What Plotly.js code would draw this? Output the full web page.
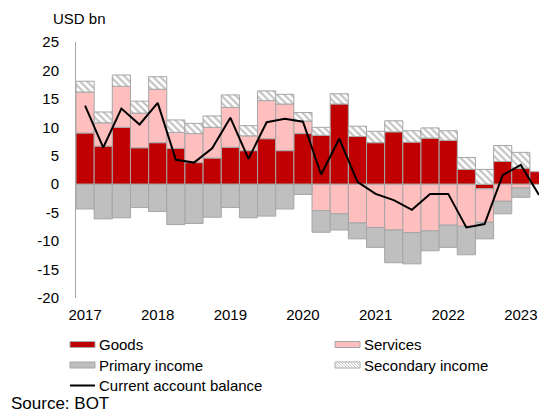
<!DOCTYPE html>
<html>
<head>
<meta charset="utf-8">
<script src="https://cdn.plot.ly/plotly-3.0.1.min.js"></script>
<style>
html,body{margin:0;padding:0;background:#fff;}
#chart{width:539px;height:414px;}
</style>
</head>
<body>
<div id="chart"></div>
<script>
var quarters = ["2017Q1","2017Q2","2017Q3","2017Q4","2018Q1","2018Q2","2018Q3","2018Q4",
  "2019Q1","2019Q2","2019Q3","2019Q4","2020Q1","2020Q2","2020Q3","2020Q4",
  "2021Q1","2021Q2","2021Q3","2021Q4","2022Q1","2022Q2","2022Q3","2022Q4",
  "2023Q1","2023Q2"];
var yearTicks = ["2017Q1","2018Q1","2019Q1","2020Q1","2021Q1","2022Q1","2023Q1"];
var yearLabels = ["2017","2018","2019","2020","2021","2022","2023"];
var yTickValues = [-20, -15, -10, -5, 0, 5, 10, 15, 20, 25];
var yTickLabels = ["-20", "-15", "-10", "-5", "0", "5", "10", "15", "20", "25"];

var goods = [9.0, 6.7, 10.0, 6.4, 7.3, 6.3, 3.8, 4.6, 6.5, 5.9, 8.0, 5.9, 8.9, 8.6, 14.1, 8.4,
  7.3, 9.2, 7.4, 8.1, 7.7, 2.6, -0.8, 4.0, 2.8, 2.2];
var services = [7.2, 4.1, 7.2, 6.1, 9.4, 2.8, 5.1, 5.4, 7.0, 2.6, 6.7, 8.2, 2.2, -4.65, -5.2, -6.8,
  -7.6, -8.05, -8.5, -8.2, -7.2, -7.4, -5.9, -3.0, -0.65, null];
var primaryIncome = [-4.35, -6.1, -5.9, -4.1, -4.8, -7.1, -6.9, -5.8, -4.1, -5.9, -5.6, -4.35, -1.8, -3.8, -2.85, -2.8,
  -3.5, -5.75, -5.5, -3.5, -3.9, -5.0, -2.9, -2.2, -1.65, null];
var secondaryIncome = [1.9, 1.9, 2.0, 2.1, 2.2, 2.2, 1.8, 2.0, 2.2, 1.8, 1.7, 1.7, 1.5, 1.4, 1.8, 1.8,
  2.0, 1.95, 2.0, 1.8, 1.7, 2.1, 2.6, 2.8, 2.8, null];
var currentAccount = [13.8, 6.45, 13.3, 10.5, 14.3, 4.3, 3.8, 6.3, 11.7, 4.45, 10.9, 11.5, 11.0, 1.7, 8.0, 0.4,
  -1.7, -2.8, -4.5, -1.7, -1.7, -7.6, -7.0, 1.6, 3.4, -1.9];

var seriesNames = ["Goods", "Services", "Primary income", "Secondary income", "Current account balance"];

var FONT = "Liberation Sans, Arial, sans-serif";
var OUTLINE = "#a6a6a6";
var HATCH = "#c4c4c4";
var COLORS = ["#c00000", "#ffbfbf", "#bfbfbf", "#ffffff", "#000000"];
var outline = {color: OUTLINE, width: 1};

var traces = [
  {type: "bar", name: seriesNames[0], x: quarters, y: goods,
   marker: {color: COLORS[0], line: outline}},
  {type: "bar", name: seriesNames[1], x: quarters, y: services,
   marker: {color: COLORS[1], line: outline}},
  {type: "bar", name: seriesNames[2], x: quarters, y: primaryIncome,
   marker: {color: COLORS[2], line: outline}},
  {type: "bar", name: seriesNames[3], x: quarters, y: secondaryIncome,
   marker: {color: COLORS[3], line: outline,
     pattern: {shape: "\\", fgcolor: HATCH, bgcolor: "#ffffff", size: 5, solidity: 0.45}}},
  {type: "scatter", mode: "lines", name: seriesNames[4], x: quarters, y: currentAccount,
   line: {color: COLORS[4], width: 2}}
];

// plot area geometry (pixels) used to place the hand-drawn legend and notes
var W = 539, H = 414, ML = 76, MR = 0, MT = 42, MB = 116;
var PW = W - ML - MR, PH = H - MT - MB;
function px(xp) { return (xp - ML) / PW; }
function py(yp) { return (H - MB - yp) / PH; }

var shapes = [], annotations = [];
// legend: 2 columns x 3 rows
var legCols = [70, 335], legRows = [344.5, 365, 385.5], swW = 25, swH = 6, textGap = 2;
seriesNames.forEach(function (name, i) {
  var cx = legCols[i % 2], cy = legRows[Math.floor(i / 2)];
  if (i === 4) {
    shapes.push({type: "line", xref: "paper", yref: "paper",
      x0: px(cx), x1: px(cx + swW), y0: py(cy), y1: py(cy),
      line: {color: COLORS[4], width: 2}});
  } else {
    shapes.push({type: "rect", xref: "paper", yref: "paper",
      x0: px(cx), x1: px(cx + swW), y0: py(cy - swH / 2), y1: py(cy + swH / 2),
      fillcolor: COLORS[i], line: {color: OUTLINE, width: 1}});
    if (i === 3) {
      var top = cy - swH / 2, bot = cy + swH / 2;
      for (var k = -swH; k < swW; k += 3) {
        var xa = cx + k, ya = top, xb = cx + k + swH, yb = bot;
        if (xa < cx) { ya += (cx - xa); xa = cx; }
        if (xb > cx + swW) { yb -= (xb - cx - swW); xb = cx + swW; }
        if (xb - xa < 0.5) continue;
        shapes.push({type: "line", xref: "paper", yref: "paper",
          x0: px(xa), y0: py(ya), x1: px(xb), y1: py(yb),
          line: {color: HATCH, width: 1}});
      }
    }
  }
  annotations.push({text: name, xref: "paper", yref: "paper",
    x: px(cx + swW + textGap), y: py(cy), xanchor: "left", yanchor: "middle",
    showarrow: false, font: {family: FONT, size: 15, color: "#000000"}});
});
annotations.push({text: "USD bn", xref: "paper", yref: "paper", x: px(51), y: py(18),
  xanchor: "left", yanchor: "middle", showarrow: false,
  font: {family: FONT, size: 15, color: "#000000"}});
annotations.push({text: "Source: BOT", xref: "paper", yref: "paper", x: px(9), y: py(403.5),
  xanchor: "left", yanchor: "middle", showarrow: false,
  font: {family: FONT, size: 17, color: "#000000"}});

var layout = {
  width: W, height: H,
  margin: {l: ML, r: MR, t: MT, b: MB, pad: 0},
  paper_bgcolor: "#ffffff", plot_bgcolor: "#ffffff",
  font: {family: FONT, size: 15, color: "#000000"},
  barmode: "relative", bargap: 0,
  showlegend: false,
  xaxis: {
    type: "category", range: [-0.5, 25],
    tickmode: "array", tickvals: yearTicks, ticktext: yearLabels,
    showgrid: false, zeroline: false, showline: false, ticks: "",
    ticklabelstandoff: 6,
    tickfont: {family: FONT, size: 15, color: "#000000"}
  },
  yaxis: {
    range: [-20, 25], tickmode: "array", tickvals: yTickValues, ticktext: yTickLabels,
    showgrid: false, zeroline: false, showline: true, linecolor: OUTLINE, linewidth: 1,
    ticks: "", ticklabelstandoff: 13,
    tickfont: {family: FONT, size: 15, color: "#000000"}
  },
  shapes: shapes,
  annotations: annotations
};

Plotly.newPlot("chart", traces, layout, {displayModeBar: false, staticPlot: true});
</script>
</body>
</html>
